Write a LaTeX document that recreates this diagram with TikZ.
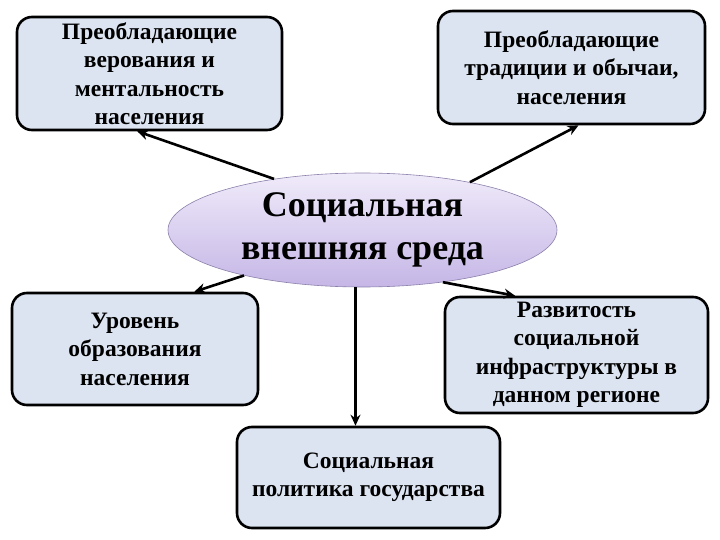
\documentclass[tikz,border=0pt]{standalone}
\usepackage{fontspec}
\setmainfont{Liberation Serif}
\usepackage{tikz}
\usetikzlibrary{arrows.meta,shapes.geometric}
\definecolor{boxfill}{HTML}{DCE4F1}
\definecolor{elltop}{HTML}{F0EBFA}
\definecolor{ellbot}{HTML}{C5B6E6}
\definecolor{ellline}{HTML}{8C80AA}
\tikzstyle{factor}=[draw,line width=2.6pt,fill=boxfill,rounded corners=15pt,align=center,
  font=\fontsize{23.5}{28.5}\selectfont\bfseries,inner sep=0pt]
\tikzstyle{core}=[ellipse,draw=ellline,line width=0.6pt,top color=elltop,bottom color=ellbot,
  align=center,font=\fontsize{36}{43}\selectfont\bfseries,inner sep=0pt]
\tikzstyle{link}=[line width=2.6pt,-{Stealth[length=11pt,width=10pt]}]

\begin{document}
\begin{tikzpicture}[x=1pt,y=-1pt]
\useasboundingbox (0,0) rectangle (720,540);
\node [core,minimum width=389pt,minimum height=114pt] (env) at (362.5,230) {Социальная\\внешняя среда};
\node [factor,minimum width=265pt,minimum height=113pt] (belief) at (149.5,73.5)
  {Преобладающие\\верования и\\ментальность\\населения};
\node [factor,minimum width=267pt,minimum height=113pt] (custom) at (571.5,67.5)
  {Преобладающие\\традиции и обычаи,\\населения};
\node [factor,minimum width=246pt,minimum height=112pt] (edu) at (135,349)
  {Уровень\\образования\\населения};
\node [factor,minimum width=263pt,minimum height=116pt] (infra) at (576.5,355)
  {Развитость\\социальной\\инфраструктуры в\\данном регионе};
\node [factor,minimum width=263pt,minimum height=101pt] (policy) at (368.5,477.5)
  {Социальная\\политика государства};

\draw [link] (env.150.6) -- (belief.-102);
\draw [link] (env.24) -- (custom.-83);
\draw [link] (env.201.5) -- (edu.44);
\draw [link] (env.-33) -- (infra.136);
\draw [link] (env.-97.5) -- (env.-97.5 |- policy.north);
\end{tikzpicture}
\end{document}
